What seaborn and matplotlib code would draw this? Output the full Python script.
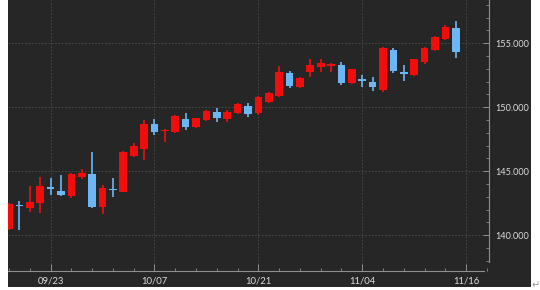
import matplotlib
matplotlib.use("Agg")
import matplotlib.pyplot as plt
from matplotlib.patches import Rectangle
from matplotlib.ticker import FixedLocator, MultipleLocator
import seaborn as sns
import numpy as np
import pandas as pd

# ---- data (USD/JPY daily candles) ----
opens = [140.47, 142.36, 142.16, 142.50, 143.80, 143.46, 143.07, 144.58, 144.79, 142.19,
         143.60, 143.41, 146.22, 146.72, 148.70, 148.12, 148.09, 149.11, 148.48, 149.01,
         149.66, 149.09, 149.58, 150.13, 149.53, 150.44, 150.91, 152.66, 151.61, 152.78,
         153.17, 153.23, 153.30, 151.88, 152.19, 152.00, 151.35, 154.48, 152.78, 152.52,
         153.56, 154.48, 155.34, 156.17]
highs = [142.50, 142.68, 143.87, 144.53, 144.45, 144.71, 144.84, 145.16, 146.48, 143.93,
         144.45, 146.55, 147.23, 149.01, 149.09, 148.30, 149.40, 149.53, 149.20, 149.80,
         149.92, 149.75, 150.30, 150.31, 150.90, 151.20, 153.23, 152.84, 152.35, 153.77,
         153.77, 153.44, 153.56, 153.00, 152.52, 152.39, 154.70, 154.61, 153.30, 153.80,
         154.70, 155.60, 156.40, 156.74]
lows = [140.40, 140.41, 141.84, 141.77, 143.15, 143.10, 142.89, 144.38, 142.11, 141.64,
        143.02, 143.35, 146.14, 145.88, 147.84, 147.31, 148.00, 148.23, 148.40, 148.95,
        148.88, 148.88, 149.50, 149.27, 149.40, 150.35, 150.83, 151.48, 151.48, 152.34,
        152.78, 152.78, 151.74, 151.80, 151.61, 151.30, 151.20, 152.66, 152.08, 152.45,
        153.40, 154.40, 155.25, 153.83]
closes = [142.42, 142.26, 142.63, 143.87, 143.59, 143.15, 144.77, 144.89, 142.23, 143.67,
          143.50, 146.48, 146.98, 148.67, 148.09, 148.26, 149.34, 148.48, 149.14, 149.73,
          149.14, 149.66, 150.23, 149.45, 150.83, 151.09, 152.73, 151.69, 152.31, 153.30,
          153.44, 153.38, 151.88, 152.97, 152.08, 151.61, 154.61, 152.86, 152.60, 153.75,
          154.66, 155.47, 156.30, 154.34]
date_labels = ["09/23", "10/07", "10/21", "11/04", "11/16"]
y_ticks = [140, 145, 150, 155]

df = pd.DataFrame({"open": opens, "high": highs, "low": lows, "close": closes})
df["idx"] = np.arange(len(df))
df["up"] = df["close"] >= df["open"]

BG = "#262626"
RED = "#f20d0d"
BLUE = "#6cb6f5"
TXT = "#dcdcdc"
AX = "#8f8f8f"

sns.set_theme(style="dark")
plt.rcParams["font.family"] = ["Lato", "DejaVu Sans"]

fig = plt.figure(figsize=(5.4, 2.9), dpi=100, facecolor="white")
fig.patches.append(Rectangle((8 / 540, 3 / 290), 523 / 540, 287 / 290,
                             transform=fig.transFigure, facecolor=BG,
                             edgecolor="none", zorder=-5))
ax = fig.add_axes([8 / 540, 19 / 290, 481 / 540, 271 / 290])
ax.set_zorder(1)
ax.set_facecolor(BG)

colors = np.where(df["up"], RED, BLUE)
body_lo = np.minimum(df["open"], df["close"])
body_h = np.maximum(np.abs(df["close"] - df["open"]), 0.09)

ax.vlines(df["idx"], df["low"], df["high"], colors=colors, linewidth=1.2, zorder=2)
ax.bar(df["idx"], body_h, bottom=body_lo, width=0.74, color=colors,
       edgecolor="none", zorder=3)

ax.set_xlim(-0.1, 46.2)
ax.set_ylim(137.21, 158.38)

# axes / ticks
for s in ["top", "left"]:
    ax.spines[s].set_visible(False)
ax.spines["bottom"].set_color(AX)
ax.spines["right"].set_color(AX)
ax.spines["bottom"].set_linewidth(0.8)
ax.spines["right"].set_linewidth(0.8)
ax.spines["bottom"].set_bounds(-0.1, 45.7)
ax.spines["right"].set_bounds(137.9, 158.38)

major_x = [4 + 10 * i for i in range(len(date_labels))]
ax.xaxis.set_major_locator(FixedLocator(major_x))
ax.set_xticklabels(date_labels)
ax.xaxis.set_minor_locator(MultipleLocator(2))
ax.yaxis.tick_right()
ax.set_yticks(y_ticks)
ax.set_yticklabels([f"{v:.3f}" for v in y_ticks])
ax.yaxis.set_minor_locator(MultipleLocator(1))

ax.tick_params(axis="x", which="major", direction="in", length=5, width=0.7,
               color=AX, labelcolor=TXT, labelsize=6.8, pad=4, bottom=True)
ax.tick_params(axis="x", which="minor", direction="in", length=2.5, width=0.6,
               color=AX, bottom=True)
ax.tick_params(axis="y", which="major", direction="in", length=4.5, width=0.7,
               color=AX, labelcolor=TXT, labelsize=6.6, pad=4.3, right=True, left=False)
ax.tick_params(axis="y", which="minor", direction="in", length=2.5, width=0.6,
               color=AX, right=True, left=False)

ax.grid(True, which="major", color="#4c4c4c", linestyle=(0, (2, 2)), linewidth=0.6)
ax.set_axisbelow(True)

fig.text(536 / 540, 1 - 285 / 290, "\u21b5", color="#999999", fontsize=7,
         ha="center", va="center", family=["DejaVu Sans"])

fig.savefig("out.png", dpi=100, facecolor="white")
